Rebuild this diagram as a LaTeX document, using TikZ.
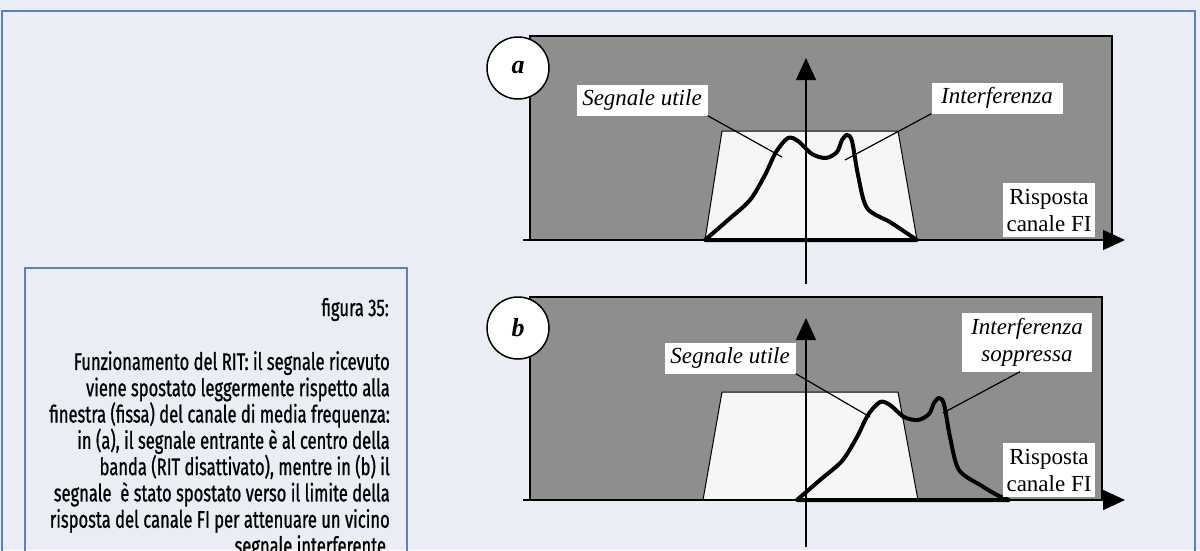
\documentclass[tikz,border=0pt]{standalone}
\usepackage{fontspec}
\setmainfont{Liberation Serif}
\newfontfamily\capfont[FakeStretch=0.69,FakeBold=0.9]{Fira Sans}
\usetikzlibrary{arrows.meta}
\definecolor{pagebg}{RGB}{234,238,244}
\definecolor{frameblue}{RGB}{88,130,192}
\definecolor{panelgray}{RGB}{142,142,142}
\definecolor{winwhite}{RGB}{246,246,246}
\tikzset{
  panel/.style={fill=panelgray},
  paneledge/.style={draw=black, line width=1.5pt},
  window/.style={fill=winwhite, draw=black, line width=1pt},
  sigcurve/.style={draw=black, line width=4pt, line join=round, line cap=round},
  axis/.style={draw=black, line width=1.2pt, -{Triangle[width=20pt,length=22pt]}},
  leader/.style={draw=black, line width=1.2pt},
  lblone/.style={fill=white, inner sep=0pt, minimum width=131pt, minimum height=31pt, font=\fontsize{23}{27}\selectfont\itshape},
  lbltwo/.style={fill=white, inner sep=0pt, minimum width=130pt, minimum height=59pt, align=center, font=\fontsize{23}{27}\selectfont\itshape},
  lblresp/.style={fill=white, inner sep=0pt, minimum width=92pt, minimum height=54pt, align=center, font=\fontsize{23}{27}\selectfont},
  circlbl/.style={circle, fill=white, draw=black, line width=1.5pt, minimum size=62pt, inner sep=0pt, font=\fontsize{26}{30}\selectfont\bfseries\itshape},
  frame/.style={draw=frameblue, line width=2.5pt},
  captxt/.style={inner sep=0pt, align=right, font=\capfont\fontsize{24}{26.3}\selectfont}
}
\begin{document}
\begin{tikzpicture}[x=1pt,y=-1pt]
\useasboundingbox (0,0) rectangle (1200,550);
\fill[pagebg] (0,0) rectangle (1200,550);
% outer frame and caption box
\draw[frame] (2,560) |- (1195,11) -- (1195,560);
\draw[frame] (25,560) |- (407,268) -- (407,560);

% ---------- panel a ----------
\fill[panel] (530,36) rectangle (1112,240);
\draw[paneledge] (530,240) |- (1112,36) -- (1112,240);
\draw[window] (705,240) -- (722,131) -- (898,131) -- (917,240);
\draw[sigcurve] plot[smooth, tension=0.5] coordinates {(705,240) (728,220) (750,200) (765,175) (776,152) (788,138) (798,141) (812,154) (826,158) (837,152) (842,140) (847,135) (852,141) (858,175) (867,208) (890,222) (905,232) (917,240)} -- cycle;
\coordinate (axa0) at (806,284);
\coordinate (axa1) at (806,58);
\coordinate (axh0) at (523,240);
\coordinate (axh1) at (1125,240);
\draw[axis] (axa0) -- (axa1);
\draw[axis] (axh0) -- (axh1);
\node[lblone] (sua) at (642,100) {Segnale utile};
\node[lblone] (ifa) at (997,98) {Interferenza};
\node[lblresp] (rca) at (1049,210) {Risposta\\canale FI};
\coordinate (pua) at (782,157);
\coordinate (pia) at (845,160);
\draw[leader] (sua.south east) -- (pua);
\draw[leader] (ifa.south west) -- (pia);
\node[circlbl] (ca) at (518,68) {a};

% ---------- panel b ----------
\fill[panel] (530,297) rectangle (1102,500);
\draw[paneledge] (530,500) |- (1102,297) -- (1102,500);
\draw[window] (703,500) -- (722,392) -- (898,392) -- (918,500);
\begin{scope}[shift={(92,262)}]
\draw[sigcurve] plot[smooth, tension=0.5] coordinates {(705,238) (728,218) (750,199) (765,175) (776,153) (788,140) (798,143) (812,155) (826,158) (837,152) (842,141) (847,136) (852,142) (858,175) (867,208) (890,224) (905,233) (917,238)} -- cycle;
\end{scope}
\coordinate (axb0) at (806,547);
\coordinate (axb1) at (806,318);
\coordinate (axk0) at (523,500);
\coordinate (axk1) at (1125,500);
\draw[axis] (axb0) -- (axb1);
\draw[axis] (axk0) -- (axk1);
\node[lblone] (sub) at (730,358) {Segnale utile};
\node[lbltwo] (ifb) at (1027,342) {Interferenza\\soppressa};
\node[lblresp] (rcb) at (1049,470) {Risposta\\canale FI};
\coordinate (pub) at (870,417);
\coordinate (pib) at (943,413);
\draw[leader] (sub.south east) -- (pub);
\draw[leader] ([xshift=-7pt]ifb.south) -- (pib);
\node[circlbl] (cb) at (518,328) {b};

% ---------- caption ----------
\node[captxt, anchor=base east] (fig) at (389,316) {figura 35:};
\node[captxt, anchor=north east] (cap) at (390,351) {Funzionamento del RIT: il segnale ricevuto\\
viene spostato leggermente rispetto alla\\
finestra (fissa) del canale di media frequenza:\\
in (a), il segnale entrante è al centro della\\
banda (RIT disattivato), mentre in (b) il\\
segnale \ è stato spostato verso il limite della\\
risposta del canale FI per attenuare un vicino\\
segnale interferente.};
\end{tikzpicture}
\end{document}
